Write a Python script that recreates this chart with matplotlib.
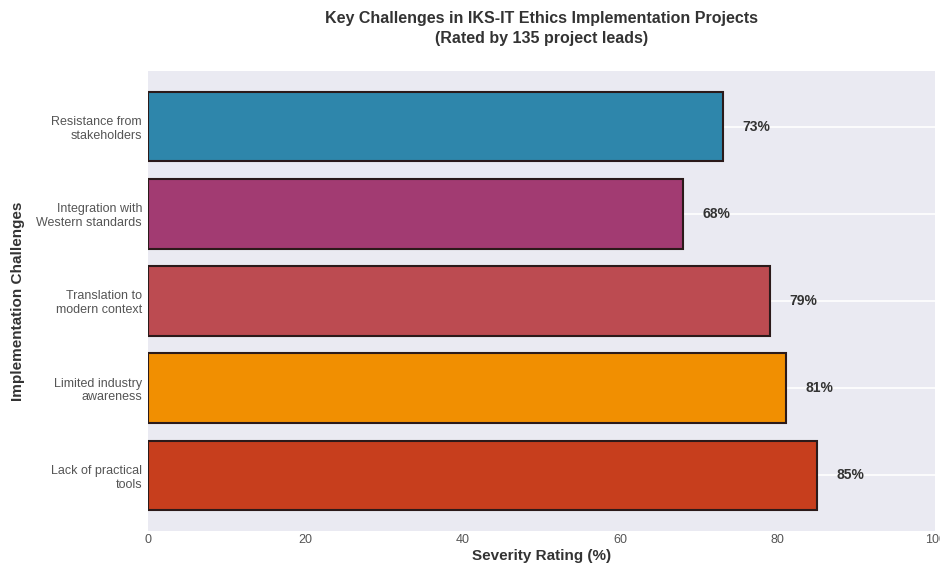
import matplotlib
matplotlib.use("Agg")
import matplotlib.pyplot as plt

categories = ["Lack of practical\ntools", "Limited industry\nawareness", "Translation to\nmodern context",
              "Integration with\nWestern standards", "Resistance from\nstakeholders"]
values = [85, 81, 79, 68, 73]
colors = ["#C73E1D", "#F18F01", "#BC4B51", "#A23B72", "#2E86AB"]

plt.rcParams['font.family'] = ['Liberation Sans', 'DejaVu Sans']

fig = plt.figure(figsize=(9.4, 5.7), dpi=100)
ax = fig.add_axes([0.157, 0.068, 0.838, 0.808])
ax.set_facecolor("#EAEAF2")
y = range(len(categories))
ax.barh(y, values, height=0.8, color=colors, edgecolor="#2b1a1a", linewidth=1.5, zorder=3)
for yi, v in zip(y, values):
    ax.text(v + 2.5, yi, f"{v}%", ha="left", va="center", fontsize=10, fontweight="bold", color="#333333", zorder=4)
ax.set_yticks(list(y))
ax.set_yticklabels(categories, fontsize=9, color="#555555")
ax.set_xlim(0, 100)
ax.set_xticks([0, 20, 40, 60, 80, 100])
ax.tick_params(axis="x", labelsize=9, labelcolor="#555555", length=0, pad=2)
ax.tick_params(axis="y", length=0, pad=4)
ax.grid(axis="y", color="white", linewidth=1.2, zorder=0)
ax.grid(axis="x", visible=False)
for s in ax.spines.values():
    s.set_visible(False)
ax.set_xlabel("Severity Rating (%)", fontsize=11, fontweight="bold", color="#333333", labelpad=2)
ax.set_ylabel("Implementation Challenges", fontsize=11, fontweight="bold", color="#333333", labelpad=8)
ax.set_title("Key Challenges in IKS-IT Ethics Implementation Projects\n(Rated by 135 project leads)",
             fontsize=11.5, fontweight="bold", color="#333333", pad=20, linespacing=1.45)
fig.savefig("out.png", dpi=100, facecolor="white")
